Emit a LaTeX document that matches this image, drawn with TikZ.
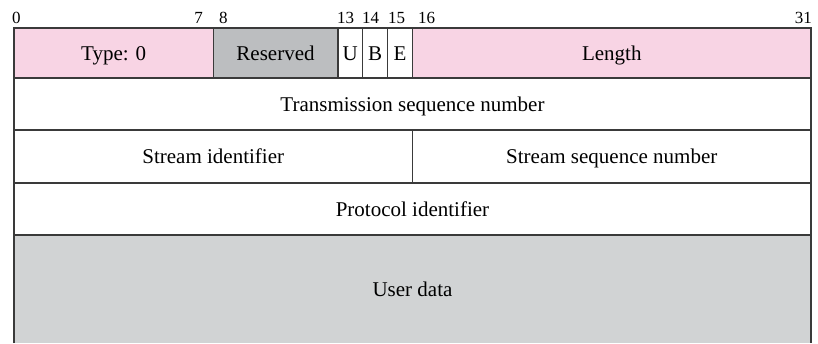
\documentclass[tikz,border=0pt]{standalone}
\usepackage{fontspec}
\setmainfont{Liberation Serif}
\definecolor{pinkfield}{HTML}{F8D4E4}
\definecolor{grayfield}{HTML}{BCBEC0}
\definecolor{datafield}{HTML}{D1D3D4}
\definecolor{rulecol}{HTML}{3A3A3A}
\begin{document}
\begin{tikzpicture}[x=1pt, y=-1pt,
  field/.style={draw=rulecol, line width=1.4pt, rectangle, inner sep=0pt, outer sep=0pt,
    anchor=north west, text height=14pt, text depth=0pt, font=\fontsize{21}{25}\selectfont},
  bitno/.style={inner sep=0pt, font=\fontsize{17}{20}\selectfont}]
  \useasboundingbox (0,0) rectangle (818,343);
  % first word
  \node[field, fill=pinkfield, minimum width=199.25pt, minimum height=50pt] (type) at (14,28) {Type: 0};
  \node[field, fill=grayfield, minimum width=124.55pt, minimum height=50pt] (reserved) at (213.25,28) {Reserved};
  \node[field, fill=white, minimum width=24.9pt, minimum height=50pt] (uflag) at (337.8,28) {U};
  \node[field, fill=white, minimum width=24.9pt, minimum height=50pt] (bflag) at (362.7,28) {B};
  \node[field, fill=white, minimum width=24.9pt, minimum height=50pt] (eflag) at (387.6,28) {E};
  \node[field, fill=pinkfield, minimum width=398.5pt, minimum height=50pt] (length) at (412.5,28) {Length};
  % remaining words
  \node[field, fill=white, minimum width=797pt, minimum height=52pt] (tsn) at (14,78) {Transmission sequence number};
  \node[field, fill=white, minimum width=398.5pt, minimum height=53pt] (sid) at (14,130) {Stream identifier};
  \node[field, fill=white, minimum width=398.5pt, minimum height=53pt] (ssn) at (412.5,130) {Stream sequence number};
  \node[field, fill=white, minimum width=797pt, minimum height=52pt] (pid) at (14,183) {Protocol identifier};
  \node[field, draw=none, fill=datafield, minimum width=797pt, minimum height=108pt] (data) at (14,235) {User data};
  \draw[rulecol, line width=1.4pt] (data.south west) -- (data.north west) -- (data.north east) -- (data.south east);
  % bit numbers
  \node[bitno, anchor=base west] (b0) at (12,23) {0};
  \node[bitno, anchor=base east] (b7) at (203,23) {7};
  \node[bitno, anchor=base west] (b8) at (219,23) {8};
  \node[bitno, anchor=base west] (b13) at (337,23) {13};
  \node[bitno, anchor=base west] (b14) at (362,23) {14};
  \node[bitno, anchor=base west] (b15) at (388,23) {15};
  \node[bitno, anchor=base west] (b16) at (418,23) {16};
  \node[bitno, anchor=base east] (b31) at (812,23) {31};
\end{tikzpicture}
\end{document}
